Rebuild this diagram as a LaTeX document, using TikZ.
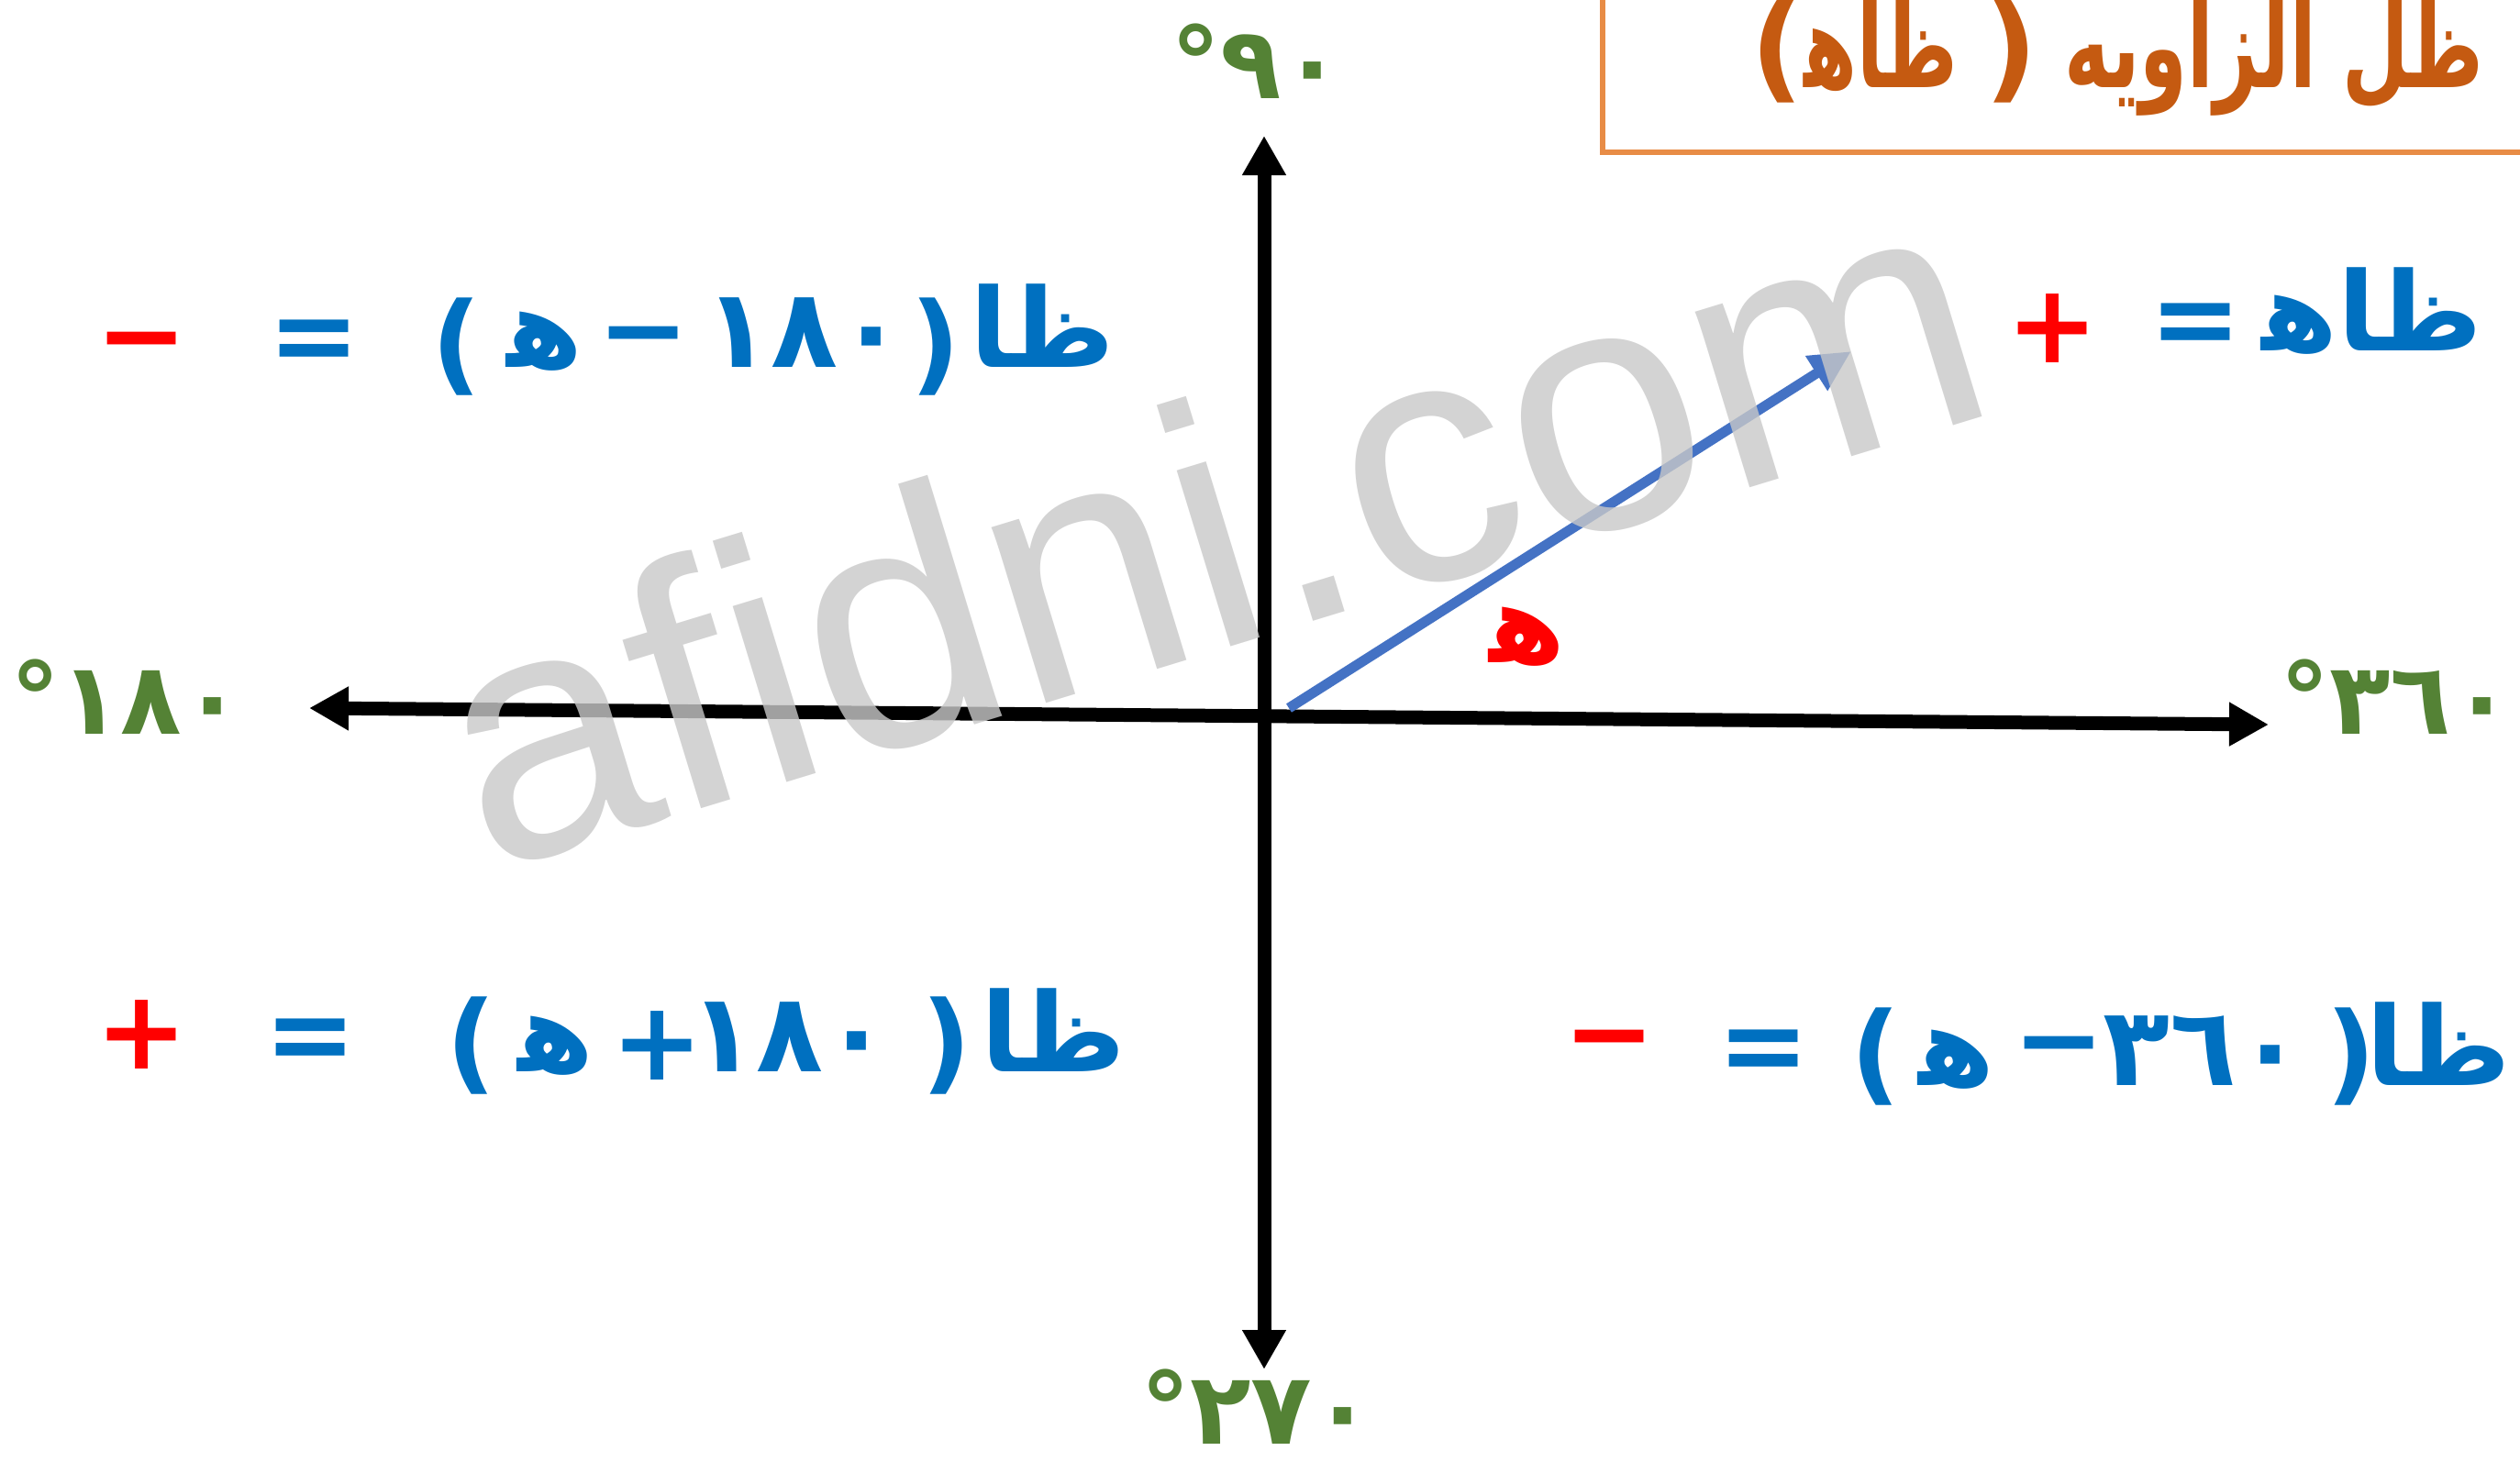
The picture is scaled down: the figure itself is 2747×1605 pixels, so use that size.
\documentclass[tikz,border=0pt]{standalone}
\usepackage{fontspec}
\usetikzlibrary{arrows.meta}
\TeXXeTstate=1
\newfontfamily\arabicfont[Script=Arabic]{DejaVu Sans}
\newfontfamily\ttlfont[Script=Arabic, FakeStretch=0.66]{DejaVu Sans}
\newfontfamily\symfont{DejaVu Sans}
\newfontfamily\wmfont{Liberation Sans}
\definecolor{frmblue}{RGB}{0,112,192}
\definecolor{deggreen}{RGB}{84,130,53}
\definecolor{ttlbrown}{RGB}{197,90,17}
\definecolor{boxorange}{RGB}{232,140,70}
\definecolor{vecblue}{RGB}{68,114,196}
\definecolor{wmgray}{RGB}{200,200,200}
\newcommand{\zwj}{^^^^200d}
\newcommand{\haa}{\beginR ه\zwj\endR}
\tikzset{
  frm/.style     ={anchor=base, inner sep=0pt, text=frmblue,
                   font=\arabicfont\bfseries\fontsize{34}{40}\selectfont},
  angl/.style    ={frm, text=red},
  sym/.style     ={anchor=center, inner sep=0pt, text=frmblue,
                   font=\symfont\bfseries\fontsize{34}{40}\selectfont},
  sgn/.style     ={sym, text=red},
  deg/.style     ={anchor=base, inner sep=0pt, text=deggreen,
                   font=\arabicfont\bfseries\fontsize{31}{36}\selectfont},
  ttl/.style     ={anchor=base, inner sep=0pt, text=ttlbrown,
                   font=\ttlfont\bfseries\fontsize{36}{44}\selectfont},
  axisline/.style={{Triangle[length=4.3mm,width=4.5mm]}-{Triangle[length=4.3mm,width=4.5mm]},
                   line width=1.5mm},
  vec/.style     ={-{Triangle[length=4.5mm,width=4.2mm]}, line width=1.1mm, vecblue},
  wmark/.style   ={anchor=base, text=wmgray, text opacity=0.8, rotate=17,
                   font=\wmfont\fontsize{108}{110}\selectfont},
}
\begin{document}
\begin{tikzpicture}[x=0.1mm, y=-0.1mm]
  \useasboundingbox (0,0) rectangle (2747,1605);
  % title box runs off the page at top and right
  \draw[boxorange, line width=0.6mm] (1747,-40) rectangle (2800,166);
  \node[ttl] (title) at (2308,95)
    {{\symfont(}\beginR ظاه\zwj\endR\ {\symfont)} \beginR ظل الزاويه\endR};
  % axes and the angle
  \coordinate (xl) at (337,772);
  \coordinate (xr) at (2473,790);
  \coordinate (yt) at (1378,148);
  \coordinate (yb) at (1378,1493);
  \coordinate (o) at (1405,772);
  \coordinate (v) at (2018,383);
  \draw[axisline] (xl) -- (xr);
  \draw[axisline] (yt) -- (yb);
  \draw[vec] (o) -- (v);
  \node[angl] (ang) at (1665,722) {\haa};
  \node[deg] (d90) at (1370,107) {٩٠°};
  \node[deg] (d180) at (138,800) {١٨٠°};
  \node[deg] (d360) at (2612,800) {٣٦٠°};
  \node[deg] (d270) at (1370,1574) {٢٧٠°};
  % quadrant I
  \node[frm] (q1t) at (2586,382) {\beginR ظاه\zwj\endR};
  \node[sym] (q1s) at (2394,360) {=};
  \node[sgn] (q1r) at (2238,358) {+};
  % quadrant II
  \foreach \x/\txt [count=\i] in {594/\haa, 877/١٨٠, 1136/{\beginR ظا\endR}}
    \node[frm] (q2t\i) at (\x,400) {\txt};
  \foreach \x/\txt [count=\i] in {498/(, 702/−, 1020/), 343/=}
    \node[sym] (q2s\i) at (\x,378) {\txt};
  \node[sgn] (q2r) at (155,384) {−};
  % quadrant III
  \foreach \x/\txt [count=\i] in {606/\haa, 861/١٨٠, 1148/{\beginR ظا\endR}}
    \node[frm] (q3t\i) at (\x,1168) {\txt};
  \foreach \x/\txt [count=\i] in {514/(, 717/+, 1032/), 339/=}
    \node[sym] (q3s\i) at (\x,1140) {\txt};
  \node[sgn] (q3r) at (155,1128) {+};
  % quadrant IV
  \foreach \x/\txt [count=\i] in {2133/\haa, 2402/٣٦٠, 2658/{\beginR ظا\endR}}
    \node[frm] (q4t\i) at (\x,1183) {\txt};
  \foreach \x/\txt [count=\i] in {2045/(, 2245/−, 2563/), 1923/=}
    \node[sym] (q4s\i) at (\x,1152) {\txt};
  \node[sgn] (q4r) at (1755,1145) {−};
  % watermark
  \node[wmark] (wm) at (1358,700) {afidni.com};
\end{tikzpicture}
\end{document}
